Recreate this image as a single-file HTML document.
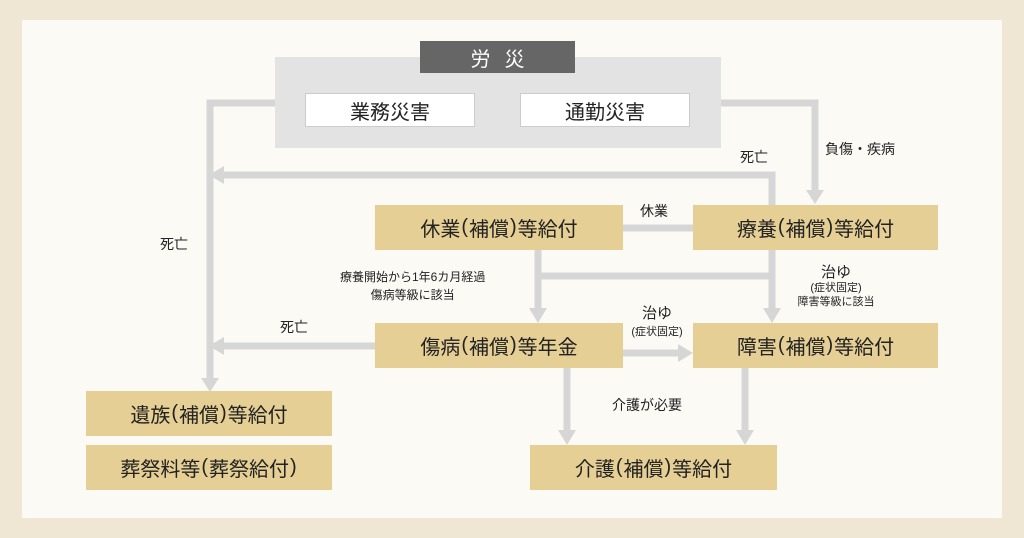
<!DOCTYPE html>
<html><head><meta charset="utf-8"><style>
body{margin:0;width:1024px;height:538px;background:#efe7d3;position:relative;overflow:hidden;font-family:"Liberation Sans","Noto Sans CJK JP",sans-serif;color:#222}
.in{position:absolute;left:22px;top:20px;width:980px;height:498px;background:#fcfaf5}
.b{position:absolute;display:flex;align-items:center;justify-content:center;font-size:20px}
.g{background:#e5cf95}
.w{background:#fff;border:1px solid #ccc;box-sizing:border-box}
.t{position:absolute;font-size:14px;white-space:nowrap;text-align:center}
.p{font-family:"Liberation Sans",sans-serif;margin:0 1px}
svg{position:absolute;left:0;top:0}
</style></head><body>
<div class="in"></div>
<div class="b" style="left:275px;top:57px;width:446px;height:91px;background:#e3e3e3"></div>
<svg width="1024" height="538">
<g stroke="#d6d6d6" stroke-width="7" fill="none">
<polyline points="275,103 210,103 210,380"/>
<polyline points="721,103 815,103 815,192"/>
<polyline points="772,205 772,175 222,175"/>
<line x1="623" y1="228" x2="693" y2="228"/>
<line x1="538" y1="250" x2="538" y2="310"/>
<line x1="538" y1="276" x2="772" y2="276"/>
<line x1="772" y1="250" x2="772" y2="310"/>
<line x1="375" y1="346" x2="222" y2="346"/>
<line x1="623" y1="353" x2="680" y2="353"/>
<line x1="567" y1="368" x2="567" y2="432"/>
<line x1="745" y1="368" x2="745" y2="432"/>
</g>
<g fill="#d6d6d6">
<polygon points="201,378 219,378 210,392"/>
<polygon points="806,190 824,190 815,204"/>
<polygon points="224,166 224,184 209,175"/>
<polygon points="529,308 547,308 538,323"/>
<polygon points="763,308 781,308 772,323"/>
<polygon points="224,337 224,355 209,346"/>
<polygon points="678,344 678,362 693,353"/>
<polygon points="558,430 576,430 567,445"/>
<polygon points="736,430 754,430 745,445"/>
</g>
</svg>
<div class="b" style="left:420px;top:41px;width:155px;height:32px;background:#666;color:#fff;letter-spacing:14px;padding-left:14px;box-sizing:border-box">労災</div>
<div class="b w" style="left:305px;top:93px;width:170px;height:34px">業務災害</div>
<div class="b w" style="left:520px;top:93px;width:170px;height:34px">通勤災害</div>
<div class="b g" style="left:375px;top:205px;width:248px;height:45px">休業<span class="p">(</span>補償<span class="p">)</span>等給付</div>
<div class="b g" style="left:693px;top:205px;width:245px;height:45px">療養<span class="p">(</span>補償<span class="p">)</span>等給付</div>
<div class="b g" style="left:375px;top:323px;width:248px;height:45px">傷病<span class="p">(</span>補償<span class="p">)</span>等年金</div>
<div class="b g" style="left:693px;top:323px;width:245px;height:45px">障害<span class="p">(</span>補償<span class="p">)</span>等給付</div>
<div class="b g" style="left:86px;top:391px;width:246px;height:45px">遺族<span class="p">(</span>補償<span class="p">)</span>等給付</div>
<div class="b g" style="left:86px;top:445px;width:246px;height:45px">葬祭料等<span class="p">(</span>葬祭給付<span class="p">)</span></div>
<div class="b g" style="left:530px;top:445px;width:247px;height:45px">介護<span class="p">(</span>補償<span class="p">)</span>等給付</div>
<div class="t" style="left:825px;top:139px">負傷・疾病</div>
<div class="t" style="left:740px;top:147px">死亡</div>
<div class="t" style="left:640px;top:201px">休業</div>
<div class="t" style="left:160px;top:234px">死亡</div>
<div class="t" style="left:340px;top:268px;font-size:12px;line-height:18px">療養開始から1年6カ月経過<br>傷病等級に該当</div>
<div class="t" style="left:796px;top:261px;font-size:15px;width:80px">治ゆ</div>
<div class="t" style="left:796px;top:281px;font-size:11px;width:80px;line-height:14px">(症状固定)<br>障害等級に該当</div>
<div class="t" style="left:280px;top:317px">死亡</div>
<div class="t" style="left:620px;top:302px;width:74px;font-size:15px">治ゆ</div>
<div class="t" style="left:620px;top:323px;width:74px;font-size:11px">(症状固定)</div>
<div class="t" style="left:612px;top:395px">介護が必要</div>
</body></html>
